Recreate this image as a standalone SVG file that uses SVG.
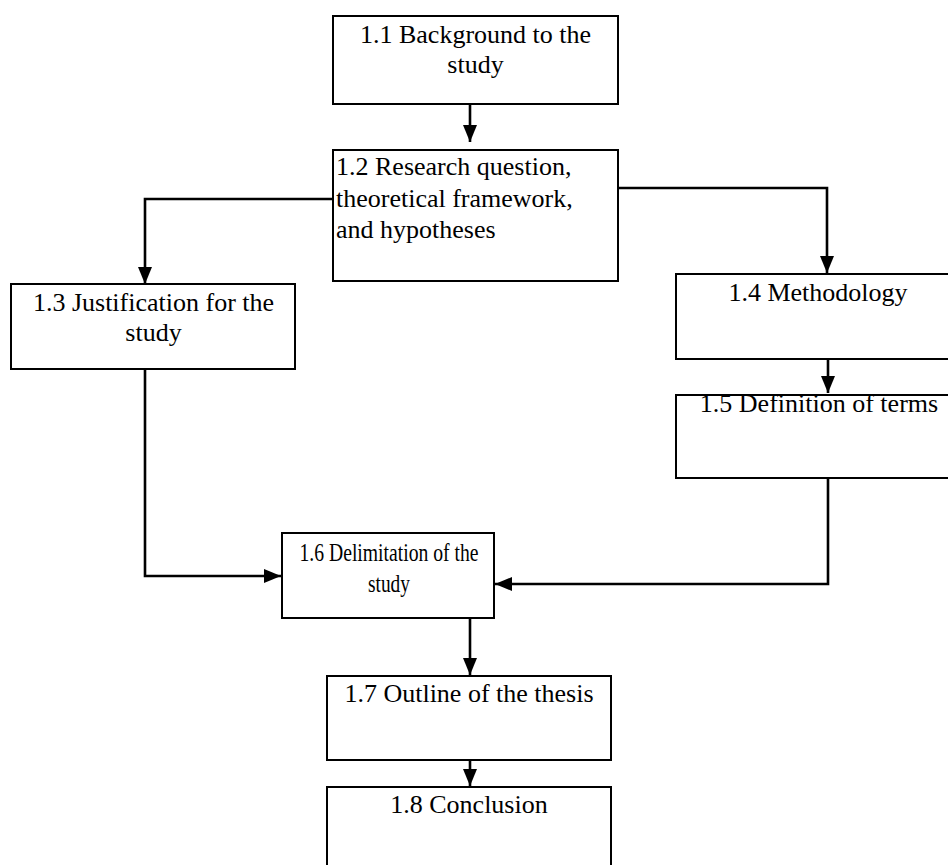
<svg xmlns="http://www.w3.org/2000/svg" width="948" height="865" viewBox="0 0 948 865">
  <style>
    .box { fill: #ffffff; stroke: #000000; stroke-width: 2; }
    .lbl { font-family: "Liberation Serif", "Times New Roman", serif; font-size: 26px; fill: #000000; }
    .mid { text-anchor: middle; }
    .link { fill: none; stroke: #000000; stroke-width: 2.6; marker-end: url(#arrow); }
  </style>
  <defs>
    <marker id="arrow" viewBox="0 0 17 14" refX="17" refY="7" markerWidth="17" markerHeight="14" markerUnits="userSpaceOnUse" orient="auto">
      <path d="M0,0 L17,7 L0,14 z" fill="#000000"/>
    </marker>
  </defs>
  <rect width="948" height="865" fill="#ffffff"/>

  <!-- connectors -->
  <g id="connectors">
    <path class="link" d="M470,104 V142"/>
    <path class="link" d="M333,199 H145 V284"/>
    <path class="link" d="M618,188 H827 V273"/>
    <path class="link" d="M828,359 V393"/>
    <path class="link" d="M145,369 V576 H281"/>
    <path class="link" d="M828,478 V584 H495"/>
    <path class="link" d="M470,618 V675"/>
    <path class="link" d="M470,760 V786"/>
  </g>

  <g id="n11">
    <rect class="box" x="333" y="16" width="285" height="88"/>
    <text class="lbl mid" x="475.5" y="43">1.1 Background to the</text>
    <text class="lbl mid" x="475.5" y="73">study</text>
  </g>

  <g id="n12">
    <rect class="box" x="333" y="150" width="285" height="131"/>
    <text class="lbl" x="336" y="175">1.2 Research question,</text>
    <text class="lbl" x="336" y="207">theoretical framework,</text>
    <text class="lbl" x="336" y="238">and hypotheses</text>
  </g>

  <g id="n13">
    <rect class="box" x="11" y="284" width="284" height="85"/>
    <text class="lbl mid" x="153.5" y="311">1.3 Justification for the</text>
    <text class="lbl mid" x="153.5" y="341">study</text>
  </g>

  <g id="n14">
    <rect class="box" x="676" y="274" width="290" height="85"/>
    <text class="lbl mid" x="818" y="301">1.4 Methodology</text>
  </g>

  <g id="n15">
    <rect class="box" x="676" y="395" width="290" height="83"/>
    <text class="lbl mid" x="819" y="412">1.5 Definition of terms</text>
  </g>

  <g id="n16">
    <rect class="box" x="282" y="533" width="212" height="85"/>
    <text class="lbl mid" x="389" y="561" textLength="179" lengthAdjust="spacingAndGlyphs">1.6 Delimitation of the</text>
    <text class="lbl mid" x="389" y="592" textLength="42" lengthAdjust="spacingAndGlyphs">study</text>
  </g>

  <g id="n17">
    <rect class="box" x="327" y="676" width="284" height="84"/>
    <text class="lbl mid" x="469" y="702">1.7 Outline of the thesis</text>
  </g>

  <g id="n18">
    <rect class="box" x="327" y="787" width="284" height="100"/>
    <text class="lbl mid" x="469" y="813">1.8 Conclusion</text>
  </g>
</svg>
